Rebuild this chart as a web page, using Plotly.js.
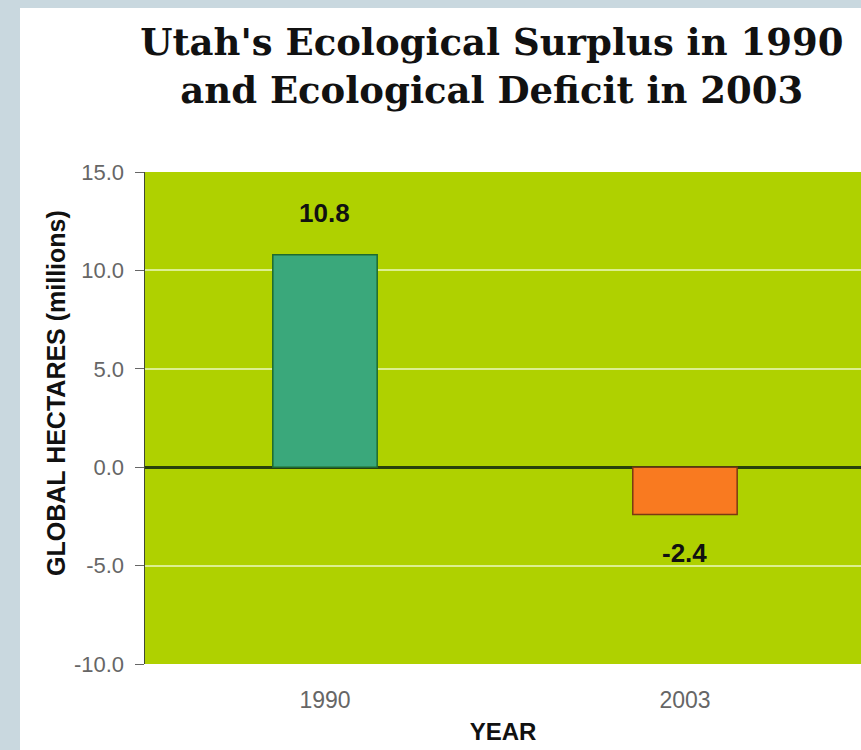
<!DOCTYPE html>
<html>
<head>
<meta charset="utf-8">
<script src="https://cdn.plot.ly/plotly-3.0.1.min.js"></script>
<style>
  html, body { margin: 0; padding: 0; width: 861px; height: 750px; overflow: hidden; background: #c9d8df; }
  #chart { position: absolute; left: 20px; top: 8px; width: 841px; height: 742px; background: #ffffff; }
</style>
</head>
<body>
<div id="chart"></div>
<script>
// Data
const years = ["1990", "2003"];
const hectares = [10.8, -2.4];
const valueLabels = ["10.8", "-2.4"];
const barColors = ["#3aa87b", "#f97a20"];
const barEdges = ["#1f6a2f", "#7a3a12"];
const yTickVals = [-10, -5, 0, 5, 10, 15];
const yTickText = ["-10.0", "-5.0", "0.0", "5.0", "10.0", "15.0"];

const trace = {
  type: "bar",
  x: years,
  y: hectares,
  width: 0.29,
  marker: { color: barColors, line: { color: barEdges, width: 1.5 } },
  hoverinfo: "x+y"
};

const labelAnnotations = years.map((yr, i) => ({
  x: i, y: hectares[i], xref: "x", yref: "y",
  text: "<b>" + valueLabels[i] + "</b>",
  showarrow: false,
  yshift: hectares[i] >= 0 ? 42 : -39,
  font: { family: "Liberation Sans, Arial, sans-serif", size: 26, color: "#111" }
}));

const layout = {
  width: 841, height: 742,
  paper_bgcolor: "#ffffff",
  plot_bgcolor: "#afd100",
  margin: { l: 125, r: 0, t: 164, b: 86 },
  showlegend: false,
  title: {
    text: "<b>Utah's Ecological Surplus in 1990<br>and Ecological Deficit in 2003</b>",
    font: { family: "DejaVu Serif, Georgia, serif", size: 37, color: "#111" },
    xref: "container", yref: "container",
    x: 0.561, xanchor: "center",
    y: 0.937, yanchor: "middle"
  },
  xaxis: {
    type: "category",
    range: [-0.5, 1.489],
    showgrid: false,
    showline: false,
    ticks: "",
    tickfont: { family: "Liberation Sans, Arial, sans-serif", size: 23, color: "#666" },
    ticklabelstandoff: 20,
    title: {
      text: "<b>YEAR</b>",
      font: { family: "Liberation Sans, Arial, sans-serif", size: 24, color: "#111" },
      standoff: 11
    }
  },
  yaxis: {
    range: [-10, 15],
    tickvals: yTickVals,
    ticktext: yTickText,
    tickfont: { family: "Liberation Sans, Arial, sans-serif", size: 22, color: "#666" },
    showline: true, linecolor: "#3f4a35", linewidth: 1.5,
    ticks: "outside", ticklen: 9, tickcolor: "#666", tickwidth: 1,
    ticklabelstandoff: 6,
    showgrid: true, gridcolor: "#dcef90", gridwidth: 2,
    zeroline: true, zerolinecolor: "#27400c", zerolinewidth: 3
  },
  annotations: labelAnnotations.concat([{
    xref: "paper", yref: "paper",
    x: -0.1243, y: 0.551,
    text: "<b>GLOBAL HECTARES (millions)</b>",
    textangle: -90, showarrow: false,
    xanchor: "center", yanchor: "middle",
    font: { family: "Liberation Sans, Arial, sans-serif", size: 25, color: "#111" }
  }])
};

Plotly.newPlot("chart", [trace], layout, { displayModeBar: false, staticPlot: true });
</script>
</body>
</html>
